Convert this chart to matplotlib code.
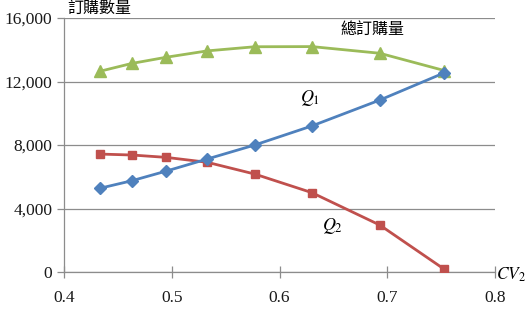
import numpy as np
import matplotlib.pyplot as plt
from matplotlib.ticker import FuncFormatter

# data
cv2 = [0.433, 0.463, 0.495, 0.533, 0.577, 0.630, 0.693, 0.753]
q1 = [5270, 5750, 6360, 7120, 8000, 9200, 10830, 12550]
q2 = [7430, 7370, 7220, 6910, 6170, 5000, 2960, 170]
total = [12640, 13140, 13530, 13930, 14190, 14200, 13780, 12690]

x_ticks = [0.4, 0.5, 0.6, 0.7, 0.8]
y_ticks = [0, 4000, 8000, 12000, 16000]

GREEN = "#9BBB59"
BLUE = "#4F81BD"
RED = "#C0504D"
GRID = "#8c8c8c"

plt.rcParams["font.family"] = ["Liberation Serif", "DejaVu Serif"]
cjk = ["Noto Sans CJK TC", "DejaVu Sans"]

fig = plt.figure(figsize=(5.26, 3.15), dpi=100)
ax = fig.add_axes([0.1217, 0.1365, 0.8194, 0.8063])

ax.plot(cv2, total, color=GREEN, lw=2.0, marker="^", ms=8, zorder=3)
ax.plot(cv2, q1, color=BLUE, lw=2.0, marker="D", ms=6, zorder=4)
ax.plot(cv2, q2, color=RED, lw=2.0, marker="s", ms=5.5, zorder=3)

ax.set_xlim(0.4, 0.8)
ax.set_ylim(0, 16000)
ax.set_xticks(x_ticks)
ax.set_yticks(y_ticks)
ax.xaxis.set_major_formatter(FuncFormatter(lambda v, p: f"{v:.1f}"))
ax.yaxis.set_major_formatter(FuncFormatter(lambda v, p: f"{int(v):,}"))

ax.grid(axis="y", color=GRID, lw=0.9)
ax.set_axisbelow(True)
for s in ["top", "right"]:
    ax.spines[s].set_visible(False)
for s in ["left", "bottom"]:
    ax.spines[s].set_color(GRID)
    ax.spines[s].set_linewidth(0.9)
ax.tick_params(axis="both", colors=GRID, length=5, width=0.9, labelsize=12.5,
               labelcolor="#1a1a1a")
ax.tick_params(axis="x", direction="inout", length=8, pad=9)

# annotations
fig.text(0.128, 0.972, "訂購數量", family=cjk, fontsize=11.5, ha="left", va="center")
fig.text(0.709, 0.908, "總訂購量", family=cjk, fontsize=11.5, ha="center", va="center")
fig.text(0.59, 0.688, r"$Q_1$", fontsize=13, ha="center", va="center",
         math_fontfamily="stix")
fig.text(0.633, 0.283, r"$Q_2$", fontsize=13, ha="center", va="center",
         math_fontfamily="stix")
fig.text(0.943, 0.127, r"$CV_2$", fontsize=12.5, ha="left", va="center",
         math_fontfamily="stix")

fig.savefig("out.png", dpi=100)
